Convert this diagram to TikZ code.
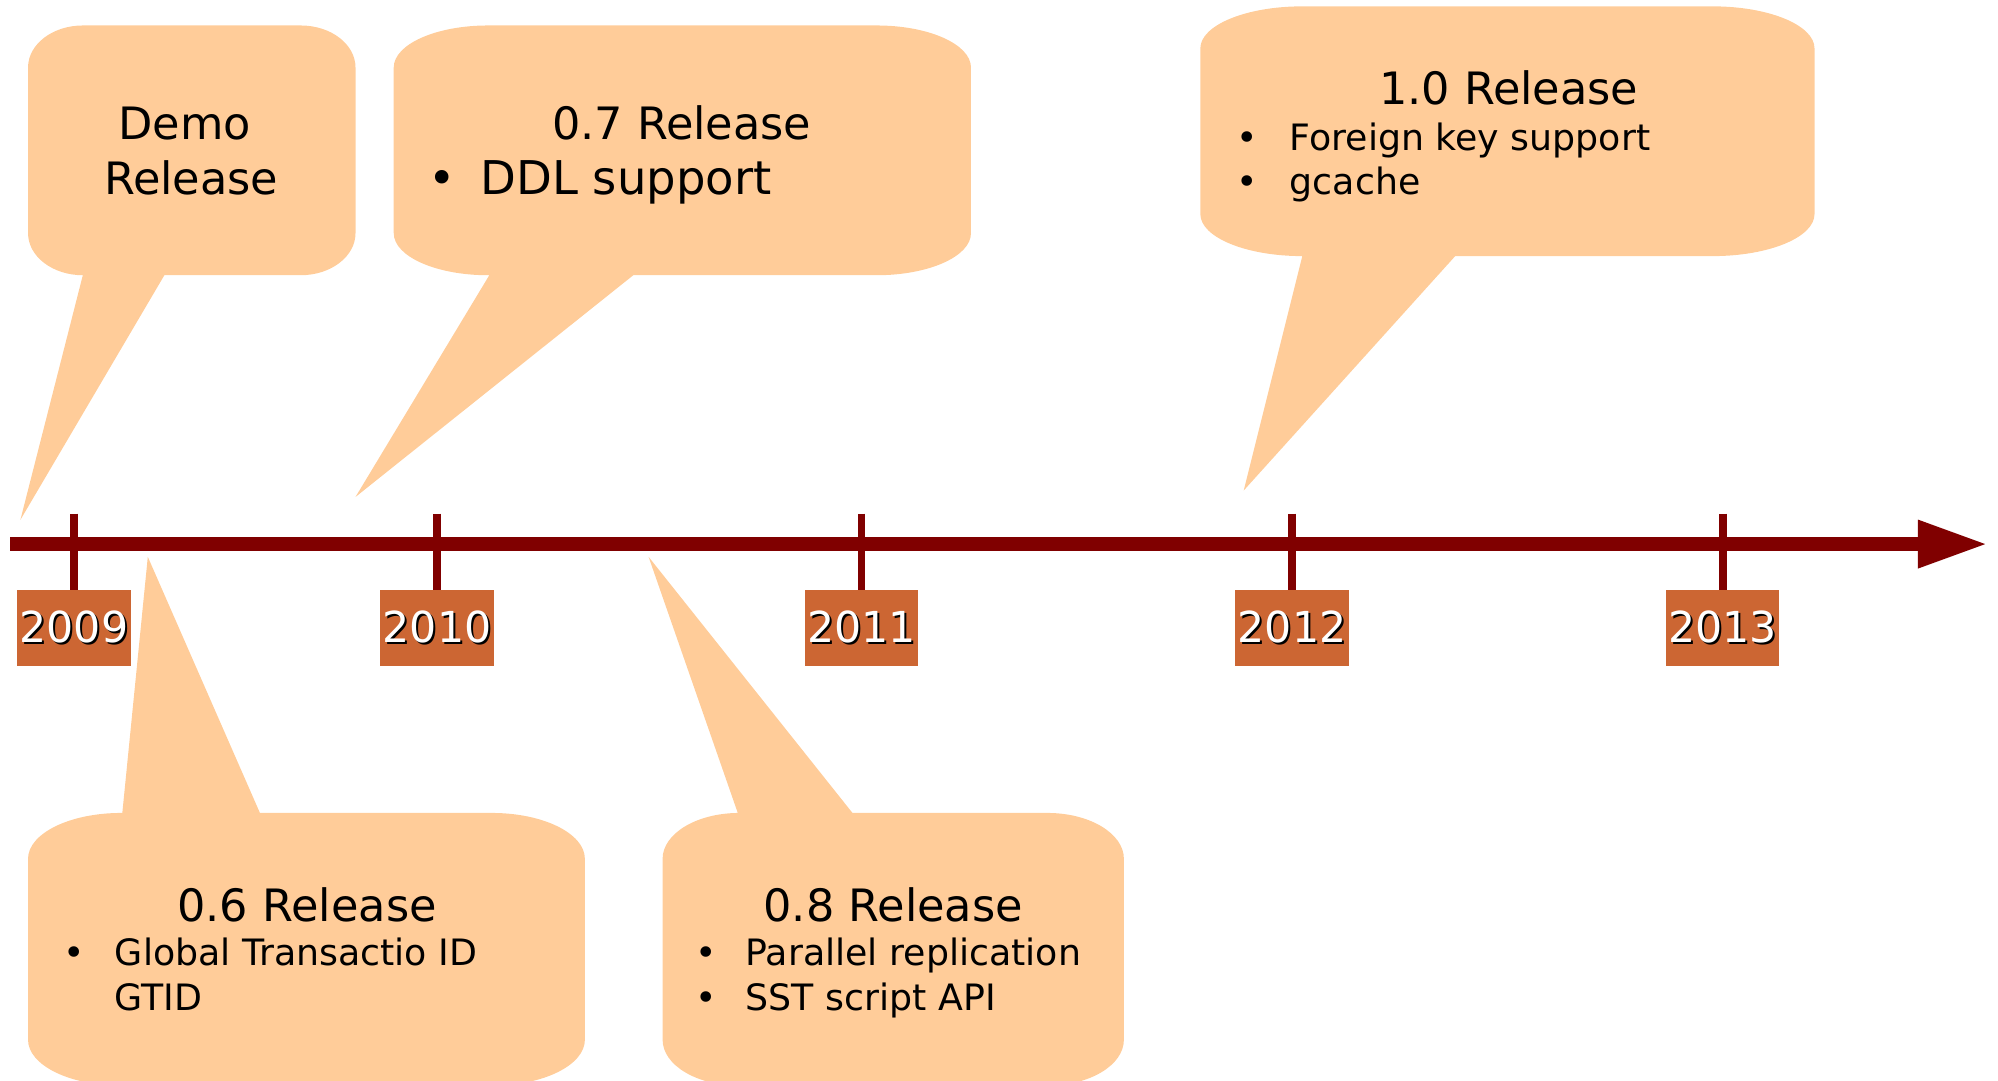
\documentclass[tikz,border=0pt]{standalone}
\usepackage{fontspec}
\setmainfont{DejaVu Sans}
\usetikzlibrary{arrows.meta}

\definecolor{bubblefill}{RGB}{255,204,153}
\definecolor{axis}{RGB}{128,0,0}
\definecolor{yearfill}{RGB}{204,102,51}

% rounded callout: x1 y1 x2 y2 rx ry, wedge on bottom edge, wedge on top edge
\newcommand\bubble[8]{%
  \fill[bubblefill] ({#1+#5},#2) #7 -- ({#3-#5},#2)
    arc[start angle=-90,end angle=0,x radius=#5pt,y radius=#6pt]
    -- (#3,{#4-#6})
    arc[start angle=0,end angle=90,x radius=#5pt,y radius=#6pt]
    #8 -- ({#1+#5},#4)
    arc[start angle=90,end angle=180,x radius=#5pt,y radius=#6pt]
    -- (#1,{#2+#6})
    arc[start angle=180,end angle=270,x radius=#5pt,y radius=#6pt]
    -- cycle;}

% white year label with a dark drop shadow
\newcommand\yeartext[1]{\makebox[0pt][l]{\hspace{1.6pt}\raisebox{-1.6pt}{\textcolor{black}{#1}}}#1}

\begin{document}
\begin{tikzpicture}[x=1pt,y=1pt,
  title/.style={font=\fontsize{35}{42}\selectfont, inner sep=0pt, anchor=base},
  item/.style={font=\fontsize{28.5}{34}\selectfont, inner sep=0pt, anchor=base west},
  bigitem/.style={font=\fontsize{36.5}{43}\selectfont, inner sep=0pt, anchor=base west},
  year/.style={fill=yearfill, text=white, minimum width=89pt, minimum height=60pt,
    inner sep=0pt, font=\fontsize{33.5}{40}\selectfont},
  tickline/.style={draw=axis, line width=6pt},
  timeline/.style={draw=axis, line width=11pt, -{Triangle[length=55pt,width=35pt]}},
]
\useasboundingbox (0,0.4) rectangle (1568,848);

% callouts above the axis
\bubble{22}{632}{279}{828}{43}{33}{-- (65,632) -- (16,440) -- (129,632)}{}
\bubble{309}{632}{762}{828}{74}{33}{-- (384,632) -- (279,458) -- (497,632)}{}
\bubble{942}{647}{1424}{843}{80}{33}{-- (1022,647) -- (976,463) -- (1142,647)}{}
% callouts below the axis
\bubble{22}{-4}{459}{210}{73}{36}{}{-- (204,210) -- (116,411) -- (96,210)}
\bubble{520}{-4}{882}{210}{60}{36}{}{-- (669,210) -- (509,411) -- (579,210)}

% callout texts
\node[title] (demo1) at (145,738.6) {Demo};
\node[title] (demo2) at (150,695) {Release};

\node[title] (r07) at (535,738.6) {0.7 Release};
\node[bigitem, anchor=base] (r07b) at (347,695) {•};
\node[bigitem] (r07a) at (377,695) {DDL support};

\node[title] (r10) at (1184,765.6) {1.0 Release};
\node[item, anchor=base] (r10b1) at (979,729.7) {•};
\node[item] (r10a) at (1012,729.7) {Foreign key support};
\node[item, anchor=base] (r10b2) at (979,695.5) {•};
\node[item] (r10c) at (1012,695.5) {gcache};

\node[title] (r06) at (241,124.6) {0.6 Release};
\node[item, anchor=base] (r06b) at (58,90) {•};
\node[item] (r06a) at (90,90) {Global Transactio ID};
\node[item] (r06c) at (90,55) {GTID};

\node[title] (r08) at (701,124.6) {0.8 Release};
\node[item, anchor=base] (r08b1) at (554,90) {•};
\node[item] (r08a) at (585,90) {Parallel replication};
\node[item, anchor=base] (r08b2) at (554,55) {•};
\node[item] (r08c) at (585,55) {SST script API};

% timeline axis
\coordinate (axstart) at (8,421);
\coordinate (axend) at (1560,421);
\draw[timeline] (axstart) -- (axend);

% year ticks and labels
\foreach \yr/\xx in {2009/58, 2010/343, 2011/676, 2012/1014, 2013/1352} {
  \coordinate (tk\yr) at (\xx,445);
  \node[year] (y\yr) at (\xx,355) {\yeartext{\yr}};
  \draw[tickline] (tk\yr) -- (y\yr.north);
}
\end{tikzpicture}
\end{document}
